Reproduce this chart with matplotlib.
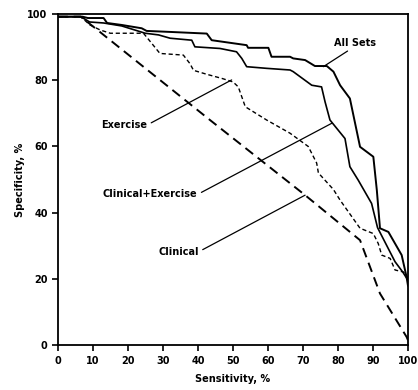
import numpy as np
import matplotlib
matplotlib.use("Agg")
import matplotlib.pyplot as plt

# sensitivity (x) / specificity (y)
all_x = [0, 7, 8.5, 13, 14, 18.2, 23.9, 25.3, 32, 42.5, 43.9, 53.9, 54.3, 60.1, 61, 66.3, 67.2, 70.6,
         73.4, 76.8, 78.7, 80.6, 83.4, 86.3, 90.1, 91.1, 92, 94.4, 98.2, 99.6, 100]
all_y = [99.2, 99.2, 98.8, 98.8, 97.3, 96.7, 95.7, 94.9, 94.6, 94.1, 92.1, 90.6, 89.8, 89.8, 87.1, 87.1,
         86.6, 86.1, 84.3, 84.3, 82.6, 78.5, 74.5, 59.9, 56.9, 46.8, 35.3, 34.2, 27.2, 20.6, 18]

ce_x = [0, 6.5, 9, 13, 18.2, 24.9, 28.7, 32, 38.2, 39.1, 46.3, 51, 52.5, 53.9, 59.6, 66.3, 67.2, 72.5,
        75.3, 76.3, 77.7, 82, 83.4, 85.8, 89.6, 91.3, 96.3, 98.5, 100]
ce_y = [99.2, 99.2, 97.6, 97.3, 96.4, 94.2, 93.7, 92.7, 92.1, 90.1, 89.6, 88.6, 86.6, 84.1, 83.6, 83.1,
        82.6, 78.5, 78.0, 73.5, 68.0, 62.4, 53.9, 49.8, 42.8, 35.5, 25.2, 22.1, 19.6]

ex_x = [0, 6.5, 9.1, 12, 14.9, 24.4, 26.8, 29.1, 35.8, 37.7, 38.7, 42.5, 47, 50, 51.5, 53.5, 59.6, 66.3,
        71.5, 73.9, 74.4, 78.7, 80.6, 86.3, 90.1, 91.5, 92.5, 94.9, 96.3, 98.7, 100]
ex_y = [99.2, 99.2, 96.7, 95.2, 94.2, 94.2, 91.1, 88.1, 87.6, 85.0, 83.0, 81.8, 80.5, 79.5, 78.0, 72.0,
        68.0, 64.0, 60.0, 55.0, 52.0, 47.0, 43.8, 35.3, 33.7, 30.7, 27.2, 26.2, 22.7, 22.1, 20.3]

cl_x = [0, 6.5, 43.4, 70.6, 86.3, 92, 99.6, 100]
cl_y = [99.2, 99.2, 68, 45.3, 31.7, 15.6, 2.5, 1.5]

labels = ["All Sets", "Exercise", "Clinical+Exercise", "Clinical"]
label_pos = [(84.9, 91.4), (18.9, 66.5), (26.3, 45.5), (34.4, 28.2)]
label_tip = [(75.8, 84.1), (49.6, 80.1), (78.2, 67.0), (70.6, 45.3)]
label_rel = [(0.45, 0.0), (1.0, 0.5), (1.0, 0.5), (1.0, 0.5)]

fig = plt.figure(figsize=(4.18, 3.9), dpi=100)
ax = fig.add_axes([0.139, 0.115, 0.837, 0.849])

ax.plot(all_x, all_y, color='black', lw=1.4)
ax.plot(ce_x, ce_y, color='black', lw=1.2)
ax.plot(ex_x, ex_y, color='black', lw=1.0, linestyle=(0, (3, 2)))
ax.plot(cl_x, cl_y, color='black', lw=1.4, linestyle=(0, (5, 3)))

for lab, pos, tip, rel in zip(labels, label_pos, label_tip, label_rel):
    ax.annotate(lab, xy=tip, xytext=pos, ha='center', va='center',
                fontsize=7, fontweight='bold',
                arrowprops=dict(arrowstyle='-', lw=0.9, color='black',
                                shrinkA=1, shrinkB=0, relpos=rel))

ax.set_xlim(0, 100)
ax.set_ylim(0, 100)
ax.set_xticks(np.arange(0, 101, 10))
ax.set_yticks(np.arange(0, 101, 20))
ax.tick_params(direction='out', length=4, width=1.2, labelsize=7)
for t in ax.get_xticklabels() + ax.get_yticklabels():
    t.set_fontweight('bold')
for s in ax.spines.values():
    s.set_linewidth(1.3)

ax.set_xlabel("Sensitivity, %", fontsize=7, fontweight='bold', labelpad=6)
ax.set_ylabel("Specificity, %", fontsize=7, fontweight='bold', labelpad=2)

fig.savefig("out.png", dpi=100)
